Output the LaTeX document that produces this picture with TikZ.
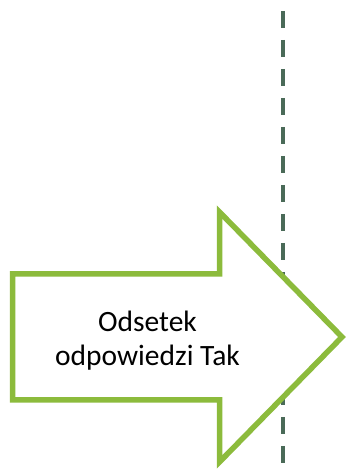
\documentclass[tikz,border=0pt]{standalone}
\usepackage{fontspec}
\setmainfont{Carlito}
\definecolor{arrowgreen}{HTML}{8CBB3C}
\definecolor{dashgreen}{HTML}{4A6A58}
\tikzset{
  arrowshape/.style={draw=arrowgreen, line width=5.5pt, fill=white, miter limit=10},
  dashline/.style={draw=dashgreen, line width=4pt, dash pattern=on 17pt off 12pt},
  lbl/.style={align=center, font=\fontsize{29.5}{34}\selectfont, text=black, inner sep=0pt}
}
\begin{document}
\begin{tikzpicture}[x=1pt,y=1pt]
\useasboundingbox (0,0) rectangle (347,470);
\coordinate (dtop) at (282.5,459);
\coordinate (dbot) at (282.5,0);
\draw[dashline] (dtop) -- (dbot);
\draw[arrowshape] (12.5,196) -- (219.5,196) -- (219.5,258) -- (342,133) -- (219.5,8) -- (219.5,70) -- (12.5,70) -- cycle;
\node[lbl] (t) at (147.5,129) {Odsetek\\odpowiedzi Tak};
\end{tikzpicture}
\end{document}
